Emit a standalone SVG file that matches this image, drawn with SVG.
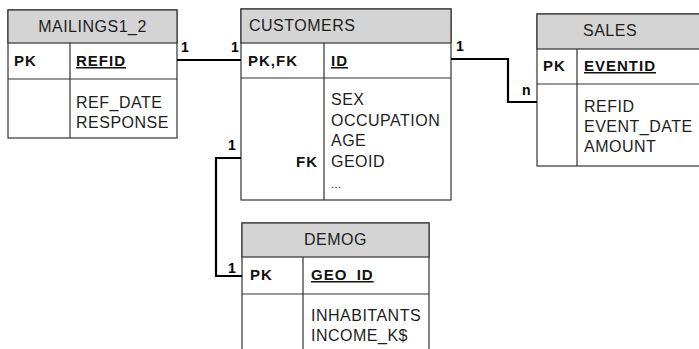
<svg xmlns="http://www.w3.org/2000/svg" width="699" height="349" viewBox="0 0 699 349">
<style>
.box{fill:#fff;stroke:#333;stroke-width:1.2}
.hdr{fill:#d4d4d4;stroke:#333;stroke-width:1.2}
.ln{stroke:#333;stroke-width:1.2;fill:none}
.t{font-family:"Liberation Sans",Arial,sans-serif;font-size:16px;fill:#1e1e1e;letter-spacing:0.5px}
.c{text-anchor:middle}
.b{font-family:"Liberation Sans",Arial,sans-serif;font-size:15px;font-weight:bold;fill:#111;letter-spacing:1px}
.u{text-decoration:underline}
.r{text-anchor:end}
.con{stroke:#000;stroke-width:2.2;fill:none}
.lbl{font-family:"Liberation Sans",Arial,sans-serif;font-size:14px;font-weight:bold;fill:#000}
</style>
<rect width="699" height="349" fill="#fff"/>
<g id="mailings">
<rect class="box" x="8" y="10" width="169" height="128"/>
<rect class="hdr" x="8" y="10" width="169" height="33"/>
<path class="ln" d="M8 79H177M70 43V138"/>
<text class="t c" x="92.5" y="32">MAILINGS1_2</text>
<text class="b" x="14" y="66">PK</text>
<text class="b u" x="76" y="66">REFID</text>
<text class="t" x="76" y="108">REF_DATE</text>
<text class="t" x="76" y="128">RESPONSE</text>
</g>
<g id="customers">
<rect class="box" x="241" y="9" width="210" height="191"/>
<rect class="hdr" x="241" y="9" width="210" height="34"/>
<path class="ln" d="M241 78H451M324 43V200"/>
<text class="t" x="249" y="31">CUSTOMERS</text>
<text class="b" x="248" y="66">PK,FK</text>
<text class="b u" x="331" y="66">ID</text>
<text class="t" x="331" y="105">SEX</text>
<text class="t" x="331" y="125.5">OCCUPATION</text>
<text class="t" x="331" y="146">AGE</text>
<text class="t" x="331" y="166.5">GEOID</text>
<text class="b r" x="318" y="166.5">FK</text>
<text class="t" x="331" y="188" style="font-size:11px">...</text>
</g>
<g id="sales">
<rect class="box" x="537" y="14" width="170" height="152"/>
<rect class="hdr" x="537" y="14" width="170" height="35"/>
<path class="ln" d="M537 84H707M577 49V166"/>
<text class="t" x="583" y="36">SALES</text>
<text class="b" x="543" y="71">PK</text>
<text class="b u" x="584" y="71">EVENTID</text>
<text class="t" x="584" y="111.5">REFID</text>
<text class="t" x="584" y="131.5">EVENT_DATE</text>
<text class="t" x="584" y="151.5">AMOUNT</text>
</g>
<g id="demog">
<rect class="box" x="242" y="223" width="187" height="140"/>
<rect class="hdr" x="242" y="223" width="187" height="34"/>
<path class="ln" d="M242 294H429M303 257V363"/>
<text class="t c" x="335.5" y="245">DEMOG</text>
<text class="b" x="250" y="280">PK</text>
<text class="b u" x="311" y="280">GEO_ID</text>
<text class="t" x="311" y="321">INHABITANTS</text>
<text class="t" x="311" y="341">INCOME_K$</text>
</g>
<g id="connectors">
<path class="con" d="M177 60H241"/>
<path class="con" d="M451 59H508V102H537"/>
<path class="con" d="M241 158H216V276H242"/>
<text class="lbl" x="181" y="52">1</text>
<text class="lbl" x="231" y="52">1</text>
<text class="lbl" x="456" y="51">1</text>
<text class="lbl" x="522" y="95">n</text>
<text class="lbl" x="228" y="150">1</text>
<text class="lbl" x="228" y="273">1</text>
</g>
</svg>
